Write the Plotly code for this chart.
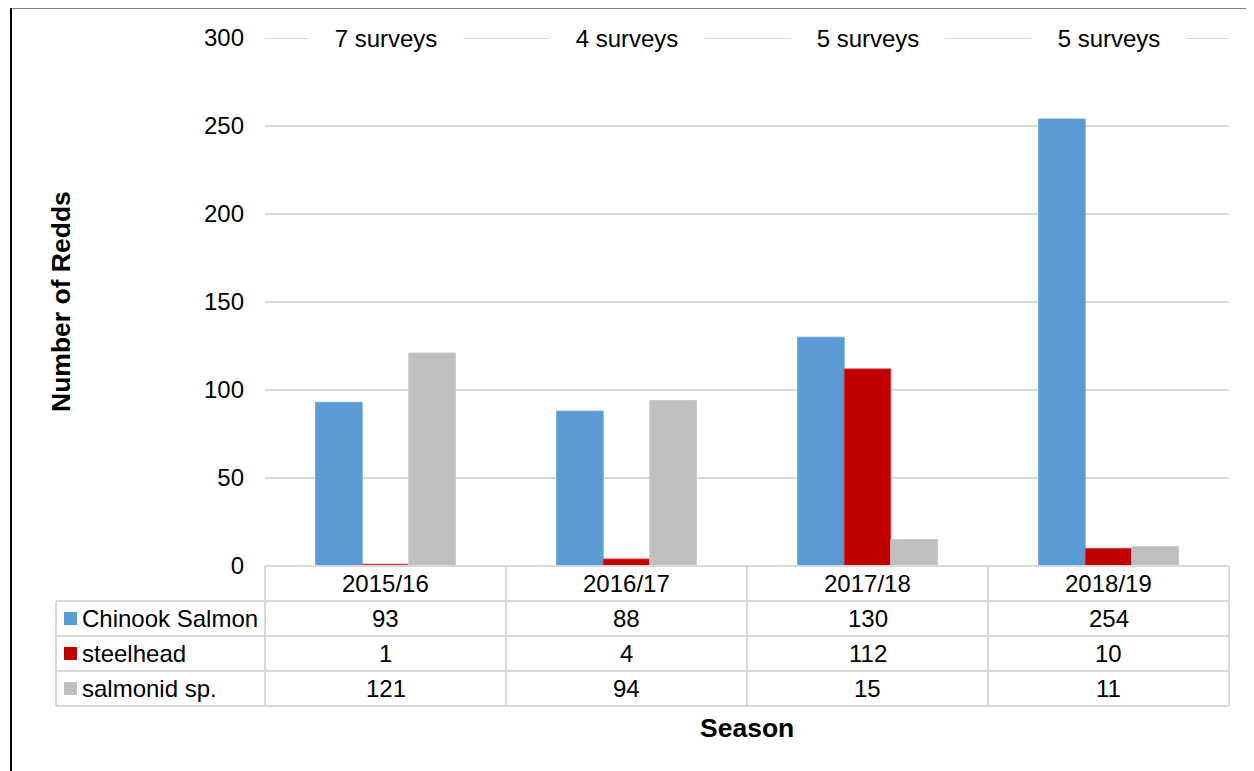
import plotly.graph_objects as go

# ---- data ----
categories = ["2015/16", "2016/17", "2017/18", "2018/19"]
series_names = ["Chinook Salmon", "steelhead", "salmonid sp."]
chinook = [93, 88, 130, 254]
steelhead = [1, 4, 112, 10]
salmonid = [121, 94, 15, 11]
survey_labels = ["7 surveys", "4 surveys", "5 surveys", "5 surveys"]
y_ticks = [0, 50, 100, 150, 200, 250, 300]

colors = ["#5B9BD5", "#C00000", "#BFBFBF"]
line_colors = ["#6FA8DC", "#D04040", "#C8C8C8"]
values = [chinook, steelhead, salmonid]

W, H = 1254, 771
OFF = 8  # page body margin
L, R, T, B = 265, 1229, 38, 566  # plot area in page pixels
FONT = "Liberation Sans, Arial, sans-serif"
GRID = "#D9D9D9"
FS = 24
TFS = 26.5


def px_x(px):
    return (px - L) / (R - L)


def px_y(py):
    return (B - py) / (B - T)


fig = go.Figure()
for name, vals, c, lc in zip(series_names, values, colors, line_colors):
    fig.add_trace(go.Bar(x=categories, y=vals, name=name,
                         marker=dict(color=c, line=dict(color=lc, width=1))))

fig.update_layout(
    width=W, height=H,
    margin=dict(l=L - OFF, r=W - (R - OFF), t=T - OFF, b=H - (B - OFF)),
    paper_bgcolor="white", plot_bgcolor="white",
    barmode="group", bargap=0.42, bargroupgap=0,
    showlegend=False,
    font=dict(family=FONT, size=FS, color="#000000"),
)
fig.update_xaxes(showticklabels=False, ticks="", showgrid=False,
                 zeroline=False, showline=False, range=[-0.5, 3.5])
fig.update_yaxes(range=[0, 300], tickvals=y_ticks, showgrid=True,
                 gridcolor=GRID, gridwidth=2, zeroline=False, showline=False,
                 ticks="", ticklabelstandoff=20,
                 tickfont=dict(family=FONT, size=FS, color="#000000"))

shapes = []
annotations = []

# top gridline (at range edge)
shapes.append(dict(type="line", xref="paper", yref="y", x0=0, x1=1,
                   y0=y_ticks[-1], y1=y_ticks[-1], line=dict(color=GRID, width=2),
                   layer="below"))

# survey counts along the top gridline
for cat, s in zip(categories, survey_labels):
    annotations.append(dict(x=cat, y=y_ticks[-1], xref="x", yref="y", text=s,
                            showarrow=False, bgcolor="white", width=154,
                            borderpad=0, font=dict(size=FS, family=FONT),
                            xanchor="center", yanchor="middle"))

# data table
rows_px = [566, 601, 636, 671, 706]
left_px = 56
col_px = [L + i * (R - L) / 4 for i in range(5)]
line = dict(color=GRID, width=2)
shapes.append(dict(type="line", xref="paper", yref="paper",
                   x0=0, x1=1, y0=px_y(rows_px[0]), y1=px_y(rows_px[0]), line=line))
for r in rows_px[1:]:
    shapes.append(dict(type="line", xref="paper", yref="paper",
                       x0=px_x(left_px), x1=1, y0=px_y(r), y1=px_y(r), line=line))
shapes.append(dict(type="line", xref="paper", yref="paper",
                   x0=px_x(left_px), x1=px_x(left_px),
                   y0=px_y(rows_px[1]), y1=px_y(rows_px[-1]), line=line))
for cx in col_px:
    shapes.append(dict(type="line", xref="paper", yref="paper",
                       x0=px_x(cx), x1=px_x(cx),
                       y0=px_y(rows_px[0]), y1=px_y(rows_px[-1]), line=line))

hy = px_y((rows_px[0] + rows_px[1]) / 2)
for cat in categories:
    annotations.append(dict(x=cat, y=hy, xref="x", yref="paper", text=cat,
                            showarrow=False, font=dict(size=FS, family=FONT),
                            xanchor="center", yanchor="middle"))

for i, (name, vals, c) in enumerate(zip(series_names, values, colors)):
    cy = (rows_px[i + 1] + rows_px[i + 2]) / 2
    shapes.append(dict(type="rect", xref="paper", yref="paper",
                       x0=px_x(64), x1=px_x(77), y0=px_y(cy - 6.5), y1=px_y(cy + 6.5),
                       fillcolor=c, line=dict(width=0)))
    annotations.append(dict(x=px_x(80), y=px_y(cy), xref="paper", yref="paper",
                            text=name, showarrow=False, xanchor="left",
                            yanchor="middle", font=dict(size=FS, family=FONT)))
    for cat, v in zip(categories, vals):
        annotations.append(dict(x=cat, y=px_y(cy), xref="x", yref="paper",
                                text=str(v), showarrow=False, xanchor="center",
                                yanchor="middle", font=dict(size=FS, family=FONT)))

annotations.append(dict(x=px_x(61), y=0.5, xref="paper", yref="paper",
                        text="<b>Number of Redds</b>", textangle=-90,
                        showarrow=False, xanchor="center", yanchor="middle",
                        font=dict(size=TFS, family=FONT)))
annotations.append(dict(x=0.5, y=px_y(728), xref="paper", yref="paper",
                        text="<b>Season</b>", showarrow=False,
                        xanchor="center", yanchor="middle",
                        font=dict(size=TFS, family=FONT)))

shapes.append(dict(type="rect", xref="paper", yref="paper",
                   x0=px_x(11), x1=px_x(1290), y0=px_y(800), y1=px_y(7.5),
                   line=dict(color="#000000", width=2), fillcolor="rgba(0,0,0,0)"))

fig.update_layout(shapes=shapes, annotations=annotations)
fig.write_html("out.html")
